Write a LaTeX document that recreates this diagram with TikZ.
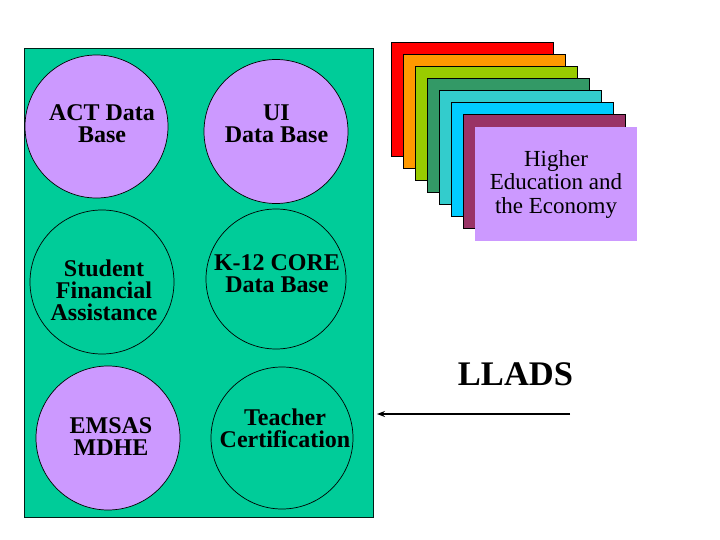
\documentclass[tikz,border=0pt]{standalone}
\usepackage{fontspec}
\setmainfont{Liberation Serif}
\usetikzlibrary{arrows.meta}
\definecolor{panelgreen}{RGB}{0,204,153}
\definecolor{lav}{RGB}{204,153,255}
\definecolor{cRed}{RGB}{255,0,0}
\definecolor{cOrange}{RGB}{255,153,0}
\definecolor{cYG}{RGB}{153,204,0}
\definecolor{cSea}{RGB}{51,153,102}
\definecolor{cTurq}{RGB}{51,204,204}
\definecolor{cSky}{RGB}{0,204,255}
\definecolor{cMaroon}{RGB}{153,51,102}
\tikzset{
  db/.style={circle, draw=black, line width=0.7pt, minimum size=#1, inner sep=0pt},
  dbtext/.style={font=\bfseries\fontsize{24}{22}\selectfont, align=center, inner sep=0pt},
  card/.style={draw=black, line width=1.2pt, fill=#1, minimum width=162pt, minimum height=114pt, inner sep=0pt, anchor=north west},
}
\begin{document}
\begin{tikzpicture}[x=1pt,y=-1pt]
\useasboundingbox (0,0) rectangle (720,540);
% panel
\node[draw=black!85!panelgreen, line width=1.2pt, fill=panelgreen, anchor=north west, minimum width=349pt, minimum height=469pt, inner sep=0pt] (panel) at (24,48) {};
% circles
\node[db=143pt, fill=lav] (c1) at (96.5,126.5) {};
\node[db=144pt, fill=lav] (c2) at (276,131.5) {};
\node[db=144pt] (c3) at (102,282) {};
\node[db=140pt] (c4) at (276,279) {};
\node[db=144pt, fill=lav] (c5) at (108,438) {};
\node[db=142pt] (c6) at (282,438) {};
\node[dbtext] (t1) at (102,123.5) {ACT Data\\Base};
\node[dbtext] (t2) at (276.5,123.6) {UI\\Data Base};
\node[dbtext] (t3) at (104,290.4) {Student\\Financial\\Assistance};
\node[dbtext] (t4) at (277,273.8) {K-12 CORE\\Data Base};
\node[dbtext] (t5) at (111,436.7) {EMSAS\\MDHE};
\node[dbtext] (t6) at (285,427.8) {Teacher\\Certification};
% stacked cards
\node[card=cRed] (k1) at (390.5,42) {};
\node[card=cOrange] (k2) at (402.5,54) {};
\node[card=cYG] (k3) at (414.5,66) {};
\node[card=cSea] (k4) at (426.5,78) {};
\node[card=cTurq] (k5) at (438.5,90) {};
\node[card=cSky] (k6) at (450.5,102) {};
\node[card=cMaroon] (k7) at (462.5,114) {};
\node[card=lav, draw=none] (k8) at (474.5,126) {};
\node[font=\fontsize{23}{23.3}\selectfont, align=center, inner sep=0pt] (hee) at (556,184.3) {Higher\\Education and\\the Economy};
% LLADS
\node[font=\bfseries\fontsize{34.5}{34.5}\selectfont, inner sep=0pt, anchor=base] (llads) at (515.5,385) {LLADS};
\coordinate (arrfrom) at (570,414);
\coordinate (arrto) at (377,414);
\draw[line width=1.8pt, -{Stealth[length=8pt,width=6pt]}] (arrfrom) -- (arrto);
\end{tikzpicture}
\end{document}
